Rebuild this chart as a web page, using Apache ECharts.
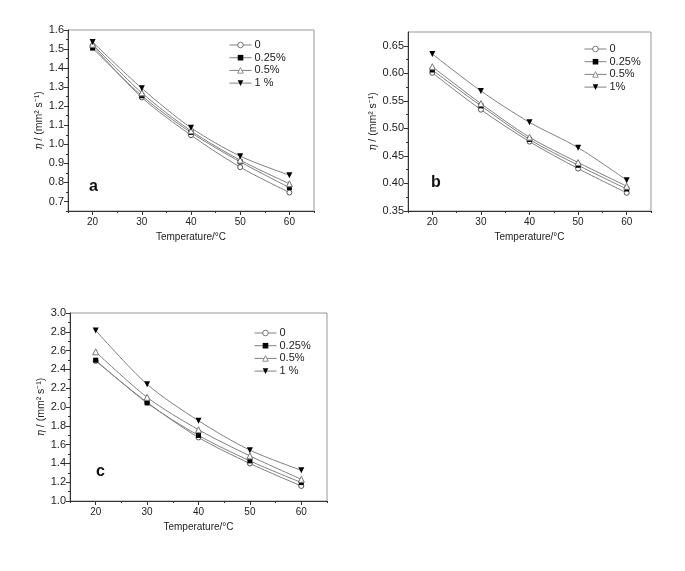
<!DOCTYPE html>
<html><head><meta charset="utf-8">
<script src="https://cdn.jsdelivr.net/npm/echarts@6/dist/echarts.min.js"></script>
<style>html,body{margin:0;padding:0;background:#fff}#c{width:685px;height:571px}</style>
</head><body><div id="c"></div><script>
// ---------- data ----------
const temps = [20, 30, 40, 50, 60];
const namesAC = ['0', '0.25%', '0.5%', '1 %'];
const namesB = ['0', '0.25%', '0.5%', '1%'];

const aZero    = [1.518, 1.246, 1.048, 0.880, 0.747];
const aQuarter = [1.505, 1.255, 1.062, 0.908, 0.773];
const aHalf    = [1.525, 1.270, 1.071, 0.917, 0.793];
const aOne     = [1.537, 1.294, 1.087, 0.938, 0.838];

const bZero    = [0.601, 0.534, 0.476, 0.427, 0.383];
const bQuarter = [0.606, 0.541, 0.480, 0.433, 0.390];
const bHalf    = [0.612, 0.545, 0.484, 0.438, 0.395];
const bOne     = [0.635, 0.568, 0.511, 0.465, 0.406];

const cZero    = [2.490, 2.050, 1.676, 1.399, 1.160];
const cQuarter = [2.498, 2.043, 1.698, 1.427, 1.196];
const cHalf    = [2.587, 2.103, 1.758, 1.480, 1.231];
const cOne     = [2.815, 2.242, 1.854, 1.541, 1.327];

const xMajor = [20, 30, 40, 50, 60];
const xMinor = [15, 25, 35, 45, 55, 65];
const aYMajor = [0.7, 0.8, 0.9, 1.0, 1.1, 1.2, 1.3, 1.4, 1.5, 1.6];
const aYMinor = [0.65, 0.75, 0.85, 0.95, 1.05, 1.15, 1.25, 1.35, 1.45, 1.55];
const bYMajor = [0.35, 0.40, 0.45, 0.50, 0.55, 0.60, 0.65];
const bYMinor = [0.375, 0.425, 0.475, 0.525, 0.575, 0.625];
const cYMajor = [1.0, 1.2, 1.4, 1.6, 1.8, 2.0, 2.2, 2.4, 2.6, 2.8, 3.0];
const cYMinor = [1.1, 1.3, 1.5, 1.7, 1.9, 2.1, 2.3, 2.5, 2.7, 2.9];

// ---------- layout / styles ----------
const FONT = 'Liberation Sans, Arial, sans-serif';
const grids = [
  {left: 68, top: 30, width: 246, height: 181},
  {left: 408, top: 32, width: 243, height: 179},
  {left: 70, top: 313, width: 257, height: 188}
];
const yRanges = [
  {min: 0.65, max: 1.6, major: aYMajor, minor: aYMinor, dec: 1, gap: 23},
  {min: 0.35, max: 0.675, major: bYMajor, minor: bYMinor, dec: 2, gap: 27},
  {min: 1.0, max: 3.0, major: cYMajor, minor: cYMinor, dec: 1, gap: 22}
];
const panelData = [
  [aZero, aQuarter, aHalf, aOne],
  [bZero, bQuarter, bHalf, bOne],
  [cZero, cQuarter, cHalf, cOne]
];
const panelNames = [namesAC, namesB, namesAC];
const legendPos = [{left: 229, top: 39}, {left: 584, top: 43}, {left: 254, top: 327}];
const panelLabels = [
  {text: 'a', left: 89, top: 179},
  {text: 'b', left: 431, top: 175},
  {text: 'c', left: 96, top: 464}
];

const LINE = '#808080';
const markerStyles = [
  {symbol: 'circle', symbolSize: 5, itemStyle: {color: '#fff', borderColor: '#555', borderWidth: 1}},
  {symbol: 'rect', symbolSize: 5, itemStyle: {color: '#000'}},
  {symbol: 'triangle', symbolSize: 6, itemStyle: {color: '#fff', borderColor: '#777', borderWidth: 1}},
  {symbol: 'triangle', symbolSize: 6, symbolRotate: 180, itemStyle: {color: '#000'}}
];

const xAxes = [], yAxes = [], series = [], legends = [], titles = [];
grids.forEach((g, gi) => {
  const yr = yRanges[gi];
  xAxes.push({
    type: 'value', gridIndex: gi, min: 15, max: 65, interval: 5, position: 'bottom',
    axisLine: {show: true, onZero: false, lineStyle: {color: '#333', width: 1}},
    axisTick: {show: true, length: 4, customValues: xMajor, lineStyle: {color: '#333'}},
    axisLabel: {customValues: xMajor, fontSize: 10, color: '#222', fontFamily: FONT, margin: 6},
    splitLine: {show: false},
    name: 'Temperature/\u00B0C', nameLocation: 'middle', nameGap: 21,
    nameTextStyle: {fontSize: 10, color: '#222', fontFamily: FONT}
  });
  xAxes.push({
    type: 'value', gridIndex: gi, min: 15, max: 65, interval: 5, position: 'bottom',
    axisLine: {show: false},
    axisTick: {show: true, length: 2, customValues: xMinor, lineStyle: {color: '#333'}},
    axisLabel: {show: false}, splitLine: {show: false}
  });
  yAxes.push({
    type: 'value', gridIndex: gi, min: yr.min, max: yr.max, position: 'left',
    axisLine: {show: true, onZero: false, lineStyle: {color: '#333', width: 1}},
    axisTick: {show: true, length: 4, customValues: yr.major, lineStyle: {color: '#333'}},
    axisLabel: {customValues: yr.major, fontSize: 11, color: '#222', fontFamily: FONT, margin: 4,
      formatter: v => v.toFixed(yr.dec)},
    splitLine: {show: false},
    name: '{i|\u03B7} / (mm\u00B2 s\u207B\u00B9)', nameLocation: 'middle', nameGap: yr.gap,
    nameTextStyle: {fontSize: 10.5, color: '#222', fontFamily: FONT,
      rich: {i: {fontStyle: 'italic', fontSize: 10.5, fontFamily: 'DejaVu Serif, serif', color: '#222'}}}
  });
  yAxes.push({
    type: 'value', gridIndex: gi, min: yr.min, max: yr.max, position: 'left',
    axisLine: {show: false},
    axisTick: {show: true, length: 2, customValues: yr.minor, lineStyle: {color: '#333'}},
    axisLabel: {show: false}, splitLine: {show: false}
  });
  panelData[gi].forEach((vals, si) => {
    series.push(Object.assign({
      type: 'line', name: panelNames[gi][si],
      xAxisIndex: gi * 2, yAxisIndex: gi * 2,
      data: temps.map((t, i) => [t, vals[i]]),
      smooth: 0.3,
      lineStyle: {color: LINE, width: 1},
      z: 2 + si,
      animation: false
    }, JSON.parse(JSON.stringify(markerStyles[si]))));
  });
  legends.push({
    orient: 'vertical', left: legendPos[gi].left, top: legendPos[gi].top,
    data: panelNames[gi], itemWidth: 22, itemHeight: 7, itemGap: 0.7,
    lineStyle: {color: LINE, width: 1},
    itemStyle: {borderWidth: 0.8},
    textStyle: {fontSize: 11, color: '#222', fontFamily: FONT, lineHeight: 12, padding: [0, 0, 0, -2]},
    selectedMode: false, padding: 0
  });
  titles.push({
    text: panelLabels[gi].text, left: panelLabels[gi].left, top: panelLabels[gi].top,
    padding: 0,
    textStyle: {fontSize: 16, fontWeight: 'bold', color: '#111', fontFamily: FONT}
  });
});

const chart = echarts.init(document.getElementById('c'), null, {renderer: 'canvas'});
chart.setOption({
  backgroundColor: '#fff',
  animation: false,
  title: titles,
  legend: legends,
  grid: grids.map(g => Object.assign({show: true, borderColor: '#999', borderWidth: 1,
    backgroundColor: 'transparent', containLabel: false}, g)),
  xAxis: xAxes,
  yAxis: yAxes,
  series: series
});
</script></body></html>
